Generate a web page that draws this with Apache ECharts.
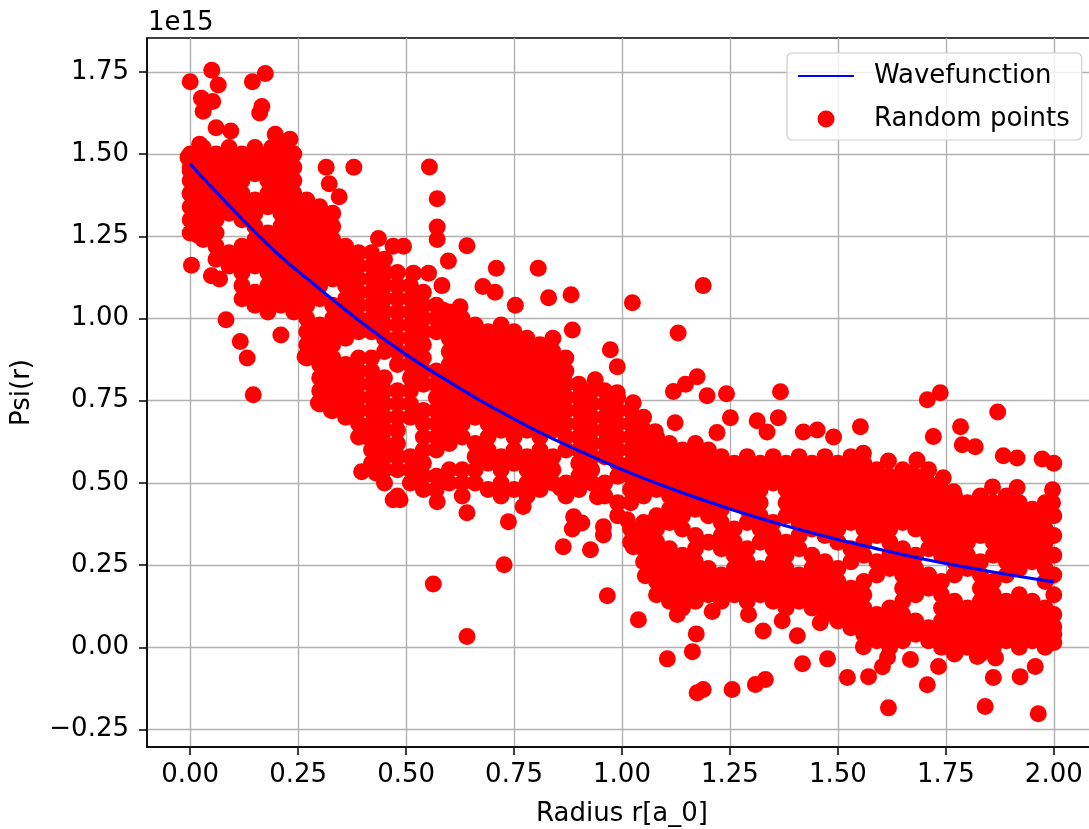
<!DOCTYPE html>
<html>
<head>
<meta charset="utf-8">
<script src="https://cdn.jsdelivr.net/npm/echarts@6/dist/echarts.min.js"></script>
<style>
  html, body { margin: 0; padding: 0; background: #fff; }
  #chart { width: 1089px; height: 829px; }
</style>
</head>
<body>
<div id="chart"></div>
<script>
// values in units of 1e15
const xTicks = [0, 0.25, 0.5, 0.75, 1.0, 1.25, 1.5, 1.75, 2.0]
const yTicks = [-0.25, 0, 0.25, 0.5, 0.75, 1.0, 1.25, 1.5, 1.75]

// wavefunction
const waveR = [0.0, 0.1, 0.2, 0.3, 0.4, 0.5, 0.6, 0.7, 0.8, 0.9, 1.0, 1.1, 1.2, 1.3, 1.4, 1.5, 1.6, 1.7, 1.8, 1.9, 2.0]
const wavePsi = [1.47, 1.33, 1.20, 1.09, 0.985, 0.89, 0.807, 0.73, 0.66, 0.598, 0.541, 0.489, 0.443, 0.40, 0.362, 0.328, 0.297, 0.268, 0.243, 0.22, 0.199]

// isolated / edge points [r, psi]
const outlierPoints = [
  [0.00,1.72],[0.05,1.755],[0.065,1.71],[0.026,1.67],[0.052,1.66],[0.03,1.63],[0.144,1.72],[0.174,1.745],[0.166,1.645],[0.161,1.625],[0.06,1.58],[0.094,1.57],[0.022,1.53],[0.197,1.56],[0.231,1.545],[0.189,1.52],[-0.005,1.49],[0.0,1.45],[0.079,1.48],[0.315,1.46],[0.379,1.46],[0.322,1.41],[0.345,1.37],[0.0,1.38],[0.003,1.162],[0.049,1.13],[0.068,1.12],[0.018,1.253],[0.436,1.243],[0.47,1.22],[0.451,1.14],
  [0.083,0.996],[0.116,0.93],[0.132,0.88],[0.146,0.768],[0.21,0.95],[0.266,0.884],[0.297,0.743],[0.327,0.72],[0.41,0.64],[0.397,0.534],[0.43,0.53],[0.47,0.449],[0.44,0.70],[0.475,0.59],[0.405,0.67],
  [0.554,1.461],[0.572,1.364],[0.572,1.278],[0.572,1.24],[0.641,1.221],[0.494,1.22],[0.598,1.175],[0.709,1.153],[0.806,1.153],[0.517,1.138],[0.552,1.138],[0.583,1.10],[0.678,1.097],[0.706,1.08],[0.83,1.063],[0.882,1.072],[1.024,1.048],[0.753,1.04],[0.625,1.036],[0.586,1.025],[0.885,0.965],[0.973,0.905],[0.989,0.853],[0.938,0.814],[0.989,0.774],[1.026,0.744],
  [0.563,0.193],[0.641,0.033],[0.727,0.251],[0.966,0.157],[1.038,0.084],[1.054,0.218],[0.641,0.409],[0.572,0.443],[0.486,0.449],[0.737,0.382],[0.771,0.428],[0.864,0.306],[0.927,0.297],[0.888,0.397],[0.907,0.378],[0.885,0.36],[0.957,0.367],[0.957,0.342],[0.943,0.458],[0.811,0.485],[0.857,0.485],[1.012,0.388],[1.026,0.306],
  [1.188,1.10],[1.13,0.956],[1.174,0.823],[1.147,0.80],[1.119,0.778],[1.197,0.765],[1.242,0.771],[1.367,0.777],[1.251,0.698],[1.313,0.689],[1.362,0.698],[1.552,0.671],[1.617,0.567],[1.123,0.683],[1.077,0.656],[1.22,0.653],[1.42,0.655],[1.452,0.661],[1.49,0.64],[1.559,0.59],[1.336,0.655],
  [1.105,-0.035],[1.163,-0.013],[1.174,-0.138],[1.188,-0.128],[1.255,-0.128],[1.309,-0.113],[1.332,-0.098],[1.418,-0.05],[1.476,-0.035],[1.522,-0.092],[1.571,-0.089],[1.617,-0.184],[1.603,-0.059],[1.406,0.035],[1.327,0.05],[1.371,0.081],[1.172,0.041],[1.128,0.1],[1.209,0.109],[1.293,0.1],[1.459,0.075],[1.119,0.151],[1.559,0.002],[1.615,-0.03],
  [1.707,0.753],[1.737,0.774],[1.87,0.716],[1.784,0.671],[1.721,0.641],[1.788,0.616],[1.818,0.61],[1.883,0.583],[1.915,0.576],[1.973,0.573],[2.0,0.56],[1.683,0.57],[1.668,0.53],[1.858,0.488],[1.915,0.486],[1.997,0.479],[1.997,0.44],[1.768,0.473],[1.744,0.516],[1.668,-0.037],[1.733,-0.058],[1.707,-0.114],[1.772,-0.016],[1.823,-0.028],[1.865,-0.032],[1.86,-0.092],[1.922,-0.089],[1.957,-0.058],[1.841,-0.18],[1.964,-0.202],[2.0,0.015],[2.0,0.063]
]

// dense cloud, read column by column: [r, [psi values]]
const cloudColumns = [
  [0.00, [1.50,1.46,1.42,1.38,1.34,1.30,1.26]],
  [0.03, [1.52,1.48,1.44,1.40,1.36,1.32,1.28,1.24]],
  [0.06, [1.50,1.46,1.42,1.38,1.34,1.30,1.26,1.22,1.18]],
  [0.09, [1.52,1.48,1.44,1.40,1.36,1.32,1.20,1.16]],
  [0.12, [1.50,1.46,1.42,1.38,1.34,1.30,1.22,1.18,1.14,1.10,1.06]],
  [0.15, [1.52,1.48,1.44,1.36,1.32,1.28,1.24,1.20,1.16,1.08,1.04]],
  [0.18, [1.50,1.46,1.42,1.38,1.34,1.26,1.22,1.18,1.14,1.10,1.06,1.02]],
  [0.21, [1.52,1.48,1.44,1.40,1.36,1.32,1.28,1.24,1.20,1.16,1.12,1.08,1.04]],
  [0.24, [1.50,1.46,1.42,1.38,1.34,1.30,1.26,1.22,1.18,1.14,1.10,1.06,1.02]],
  [0.27, [1.36,1.32,1.28,1.24,1.20,1.16,1.12,1.08,1.04,1.00,0.96,0.92,0.88]],
  [0.30, [1.34,1.30,1.26,1.22,1.18,1.14,1.10,1.06,0.98,0.94,0.90,0.86,0.82,0.78,0.74]],
  [0.33, [1.32,1.28,1.24,1.20,1.16,1.12,1.04,1.00,0.96,0.92,0.88,0.84,0.80,0.76,0.72]],
  [0.36, [1.22,1.18,1.14,1.10,1.06,1.02,0.98,0.94,0.86,0.82,0.78,0.74,0.70]],
  [0.39, [1.20,1.16,1.12,1.08,1.04,1.00,0.96,0.88,0.84,0.80,0.76,0.72,0.68,0.64]],
  [0.42, [1.20,1.16,1.12,1.08,1.04,1.00,0.96,0.88,0.84,0.80,0.76,0.72,0.68,0.64,0.60,0.56]],
  [0.45, [1.18,1.14,1.10,1.06,1.02,0.98,0.94,0.90,0.82,0.78,0.74,0.70,0.66,0.62,0.58,0.54,0.50]],
  [0.48, [1.14,1.10,1.06,1.02,0.98,0.94,0.90,0.86,0.78,0.74,0.70,0.66,0.62,0.58,0.54,0.46]],
  [0.51, [1.10,1.06,1.02,0.98,0.94,0.90,0.86,0.82,0.78,0.74,0.70,0.58,0.54,0.50]],
  [0.54, [1.08,1.04,1.00,0.96,0.92,0.88,0.84,0.80,0.72,0.68,0.64,0.60,0.56,0.52,0.48]],
  [0.57, [1.04,1.00,0.96,0.84,0.80,0.76,0.72,0.68,0.64,0.60,0.52,0.48]],
  [0.60, [1.02,0.98,0.94,0.90,0.86,0.82,0.78,0.74,0.70,0.66,0.62,0.54,0.50]],
  [0.63, [1.00,0.96,0.92,0.88,0.84,0.80,0.76,0.72,0.68,0.64,0.54,0.50,0.46]],
  [0.66, [0.98,0.94,0.90,0.86,0.82,0.78,0.74,0.70,0.62,0.58,0.54,0.50]],
  [0.69, [0.96,0.92,0.88,0.84,0.80,0.76,0.72,0.68,0.64,0.60,0.56,0.48]],
  [0.72, [0.98,0.94,0.90,0.86,0.82,0.78,0.74,0.70,0.66,0.58,0.54,0.50,0.46]],
  [0.75, [0.96,0.92,0.88,0.84,0.80,0.76,0.72,0.68,0.64,0.60,0.56,0.48]],
  [0.78, [0.94,0.90,0.86,0.82,0.78,0.74,0.70,0.66,0.58,0.54,0.50,0.46]],
  [0.81, [0.92,0.88,0.84,0.80,0.76,0.72,0.68,0.64,0.60,0.56,0.52,0.48]],
  [0.84, [0.94,0.90,0.86,0.82,0.78,0.74,0.70,0.66,0.58,0.54,0.50]],
  [0.87, [0.88,0.84,0.80,0.76,0.72,0.68,0.64,0.60,0.50,0.46]],
  [0.90, [0.80,0.76,0.72,0.68,0.64,0.60,0.56,0.52,0.48]],
  [0.93, [0.78,0.74,0.70,0.66,0.62,0.58,0.54,0.50]],
  [0.96, [0.78,0.74,0.70,0.66,0.62,0.58,0.50,0.46]],
  [0.99, [0.76,0.72,0.68,0.64,0.60,0.56,0.52,0.44,0.40]],
  [1.02, [0.72,0.68,0.64,0.60,0.56,0.52,0.48,0.44,0.36,0.32]],
  [1.05, [0.70,0.66,0.62,0.58,0.54,0.50,0.46,0.38,0.34,0.30,0.26]],
  [1.08, [0.64,0.60,0.56,0.52,0.48,0.40,0.36,0.32,0.28,0.24,0.20,0.16]],
  [1.11, [0.62,0.58,0.54,0.50,0.46,0.42,0.38,0.30,0.26,0.22,0.18,0.14]],
  [1.14, [0.60,0.56,0.52,0.48,0.44,0.40,0.36,0.28,0.24,0.20,0.16,0.12]],
  [1.17, [0.62,0.58,0.54,0.50,0.46,0.42,0.34,0.30,0.26,0.22,0.18,0.14]],
  [1.20, [0.60,0.56,0.52,0.48,0.44,0.40,0.32,0.24,0.20,0.16]],
  [1.23, [0.58,0.54,0.50,0.46,0.42,0.38,0.34,0.30,0.22,0.18,0.14]],
  [1.26, [0.56,0.52,0.48,0.44,0.36,0.32,0.28,0.24,0.20,0.16]],
  [1.29, [0.58,0.54,0.50,0.46,0.42,0.38,0.30,0.26,0.22,0.18,0.14]],
  [1.32, [0.56,0.52,0.48,0.44,0.40,0.36,0.32,0.24,0.20,0.16]],
  [1.35, [0.58,0.54,0.50,0.38,0.34,0.30,0.26,0.22,0.18,0.14]],
  [1.38, [0.56,0.52,0.48,0.44,0.40,0.32,0.28,0.24,0.20,0.16,0.12]],
  [1.41, [0.58,0.54,0.50,0.46,0.42,0.38,0.34,0.30,0.22,0.18,0.14]],
  [1.44, [0.56,0.52,0.48,0.44,0.40,0.36,0.28,0.24,0.20,0.16,0.12]],
  [1.47, [0.58,0.54,0.50,0.46,0.42,0.38,0.34,0.26,0.22,0.18,0.14,0.10]],
  [1.50, [0.56,0.52,0.48,0.44,0.40,0.36,0.32,0.24,0.20,0.16,0.12,0.08]],
  [1.53, [0.58,0.54,0.50,0.46,0.42,0.38,0.30,0.26,0.18,0.14,0.10,0.06]],
  [1.56, [0.56,0.52,0.48,0.44,0.40,0.36,0.32,0.28,0.20,0.16,0.12,0.08,0.04]],
  [1.59, [0.54,0.50,0.46,0.42,0.38,0.34,0.26,0.22,0.10,0.06,0.02]],
  [1.62, [0.52,0.48,0.44,0.40,0.36,0.32,0.28,0.24,0.12,0.08,0.04,0.00]],
  [1.65, [0.54,0.50,0.46,0.42,0.38,0.30,0.26,0.22,0.18,0.14,0.10,0.06,0.02]],
  [1.68, [0.52,0.48,0.44,0.40,0.36,0.28,0.24,0.20,0.16,0.08,0.04]],
  [1.71, [0.54,0.50,0.46,0.42,0.38,0.34,0.30,0.22,0.18,0.06,0.02]],
  [1.74, [0.48,0.44,0.40,0.36,0.32,0.28,0.20,0.16,0.12,0.08,0.04,0.00]],
  [1.77, [0.46,0.42,0.38,0.34,0.30,0.26,0.22,0.14,0.10,0.06,0.02,-0.02]],
  [1.80, [0.44,0.40,0.36,0.32,0.28,0.24,0.12,0.08,0.04,0.00]],
  [1.83, [0.46,0.42,0.38,0.34,0.26,0.22,0.18,0.14,0.10,0.06,0.02,-0.02]],
  [1.86, [0.44,0.40,0.36,0.32,0.28,0.20,0.16,0.12,0.08,0.04,0.00]],
  [1.89, [0.46,0.42,0.38,0.34,0.30,0.26,0.22,0.14,0.10,0.06,0.02]],
  [1.92, [0.44,0.40,0.36,0.32,0.28,0.24,0.16,0.12,0.08,0.04,0.00]],
  [1.95, [0.42,0.38,0.34,0.30,0.26,0.14,0.10,0.06,0.02]],
  [1.98, [0.44,0.40,0.36,0.32,0.28,0.24,0.20,0.12,0.08,0.04,0.00]],
  [2.00, [0.40,0.34,0.28,0.22,0.16,0.10,0.04]]
]

const FONT = "DejaVu Sans"
const FS = 26
const fmt = v => v.toFixed(2).replace("-", "\u2212")

const scatterData = outlierPoints.slice()
cloudColumns.forEach(([r, ys]) => ys.forEach(y => scatterData.push([r, y])))
const lineData = waveR.map((r, i) => [r, wavePsi[i]])

const chart = echarts.init(document.getElementById("chart"), null, { renderer: "canvas" })

const axisCommon = {
	type: "value",
	axisLine: { show: true, onZero: false, lineStyle: { color: "#000", width: 1.5 } },
	axisTick: { show: true, length: 8, lineStyle: { color: "#000", width: 1.5 } },
	splitLine: { show: true, lineStyle: { color: "#b0b0b0", width: 1.4 } },
	nameTextStyle: { fontFamily: FONT, fontSize: FS, color: "#000" },
}

const option = {
	animation: false,
	backgroundColor: "#fff",
	grid: {
		left: 147, top: 38, width: 950, height: 709,
		outerBoundsMode: "none", containLabel: false,
		show: true, borderColor: "#000", borderWidth: 1.5, backgroundColor: "transparent",
	},
	xAxis: {
		...axisCommon,
		min: -0.1, max: 2.1,
		axisTick: { ...axisCommon.axisTick, customValues: xTicks },
		axisLabel: { customValues: xTicks, formatter: fmt, fontFamily: FONT, fontSize: FS, color: "#000", margin: 15 },
		name: "Radius r[a_0]", nameLocation: "middle", nameGap: 54,
	},
	yAxis: {
		...axisCommon,
		min: -0.303, max: 1.853,
		axisTick: { ...axisCommon.axisTick, customValues: yTicks },
		axisLabel: {
			customValues: yTicks, formatter: fmt, fontFamily: FONT, fontSize: FS, color: "#000",
			margin: 18, padding: [7, 0, 0, 0],
		},
		name: "Psi(r)", nameLocation: "middle", nameGap: 112, nameRotate: 90,
	},
	legend: {
		left: 787, top: 53, orient: "vertical",
		itemWidth: 56, itemHeight: 17, itemGap: 17,
		padding: [10, 12, 8, 10],
		backgroundColor: "rgba(255,255,255,0.8)",
		borderColor: "#cccccc", borderWidth: 1.2, borderRadius: 5,
		textStyle: { fontFamily: FONT, fontSize: FS, color: "#000", padding: [0, 0, 0, 15] },
		data: [
			{ name: "Wavefunction", itemStyle: { opacity: 0 } },
			{ name: "Random points" },
		],
	},
	graphic: [
		{ type: "text", left: 148, top: 10, style: { text: "1e15", font: FS + "px DejaVu Sans", fill: "#000" } },
	],
	series: [
		{
			name: "Random points", type: "scatter", data: scatterData,
			symbol: "circle", symbolSize: 17, itemStyle: { color: "#ff0000", opacity: 1 },
			z: 2, emphasis: { disabled: true },
		},
		{
			name: "Wavefunction", type: "line", data: lineData, smooth: true,
			symbol: "none", showSymbol: false, lineStyle: { color: "#0000ff", width: 3.2 },
			itemStyle: { color: "#0000ff" }, z: 3,
		},
	],
}

chart.setOption(option)
</script>
</body>
</html>
